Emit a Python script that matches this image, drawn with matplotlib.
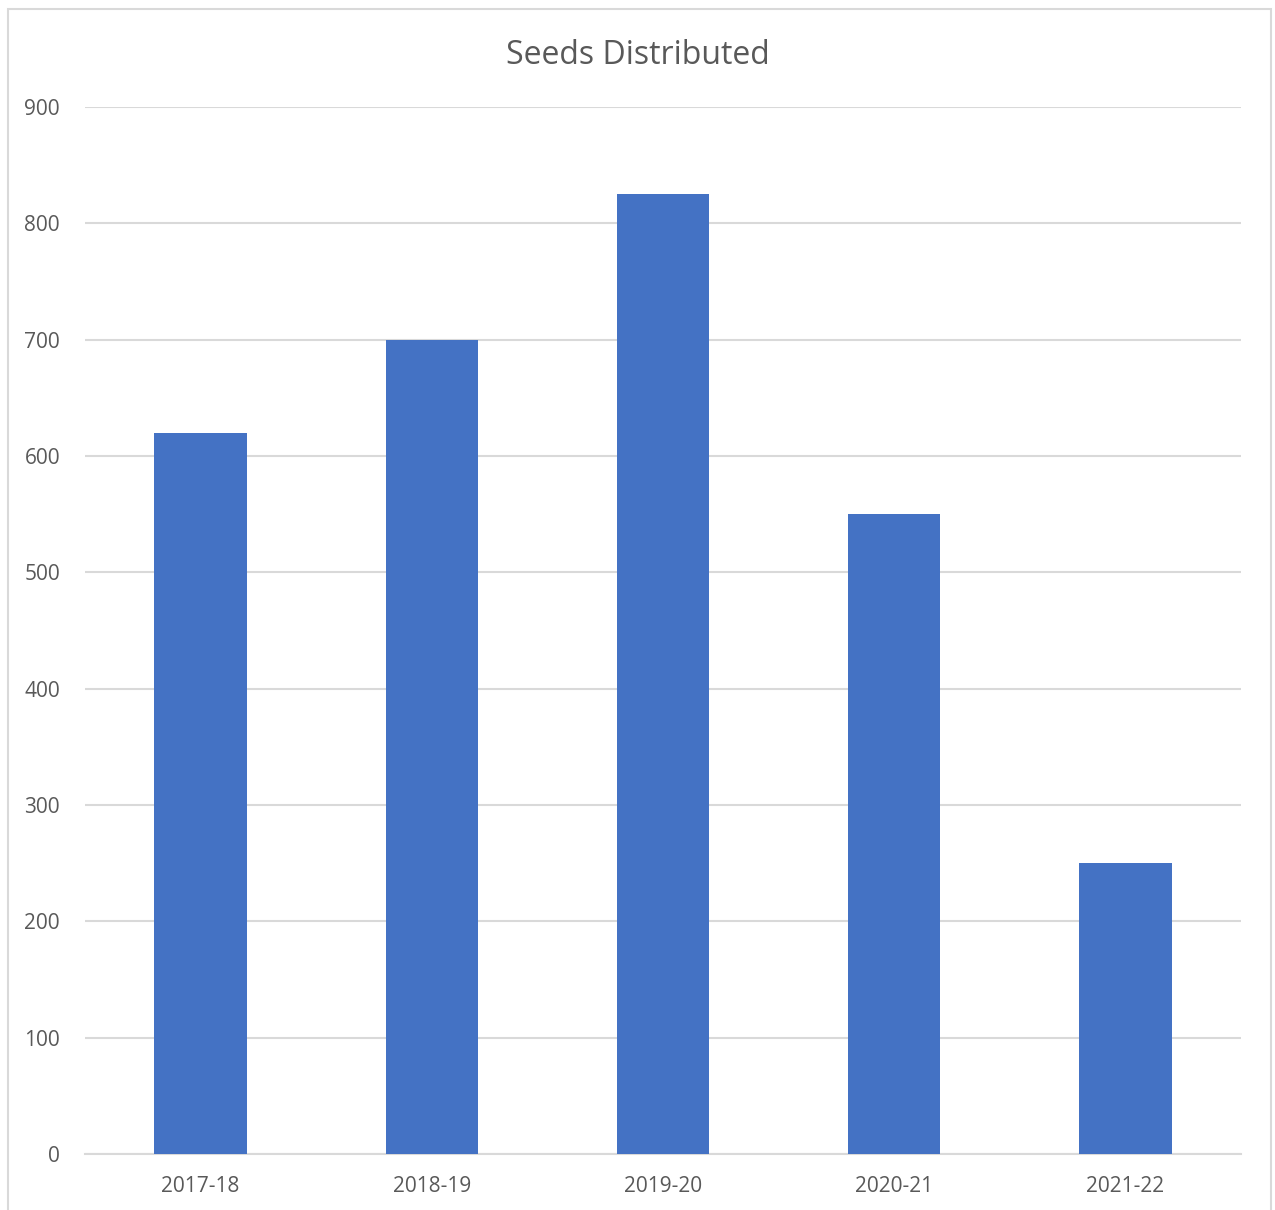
import matplotlib
matplotlib.use("Agg")
from matplotlib import pyplot as plt
from matplotlib.patches import Rectangle

# seed distribution per year
years = ['2017-18', '2018-19', '2019-20', '2020-21', '2021-22']
seeds = [620, 700, 825, 550, 250]
yticks = [0, 100, 200, 300, 400, 500, 600, 700, 800, 900]

plt.rcParams['font.family'] = ['Open Sans', 'DejaVu Sans']
text_color = '#595959'
grid_color = '#D9D9D9'

fig = plt.figure(figsize=(12.75, 12.10), dpi=100)
ax = fig.add_axes([85/1275, 56/1210, 1156/1275, 1047/1210])

# outer chart frame
W, H = 1275, 1210
fig.patches.append(Rectangle((8/W, -0.01), (1271-8)/W, (H-9)/H + 0.01,
                             transform=fig.transFigure, fill=False,
                             edgecolor=grid_color, linewidth=1.5))

x = range(len(years))
ax.bar(x, seeds, width=0.40, color='#4472C4', zorder=3)

ax.set_xlim(-0.5, len(years) - 0.5)
ax.set_ylim(0, 900)
ax.set_yticks(yticks)
ax.set_xticks(list(x))
ax.set_xticklabels(years)

ax.grid(axis='y', color=grid_color, linewidth=1.5, zorder=0)
for s in ['top', 'right', 'left']:
    ax.spines[s].set_visible(False)
ax.spines['bottom'].set_color(grid_color)
ax.spines['bottom'].set_linewidth(1.5)

ax.tick_params(axis='both', length=0, labelsize=15, labelcolor=text_color)
ax.tick_params(axis='y', pad=18)
ax.tick_params(axis='x', pad=16)

fig.text(638/W, 1 - 55/H, 'Seeds Distributed', ha='center', va='center',
         fontsize=23, color=text_color)

fig.savefig('out.png', dpi=100)
